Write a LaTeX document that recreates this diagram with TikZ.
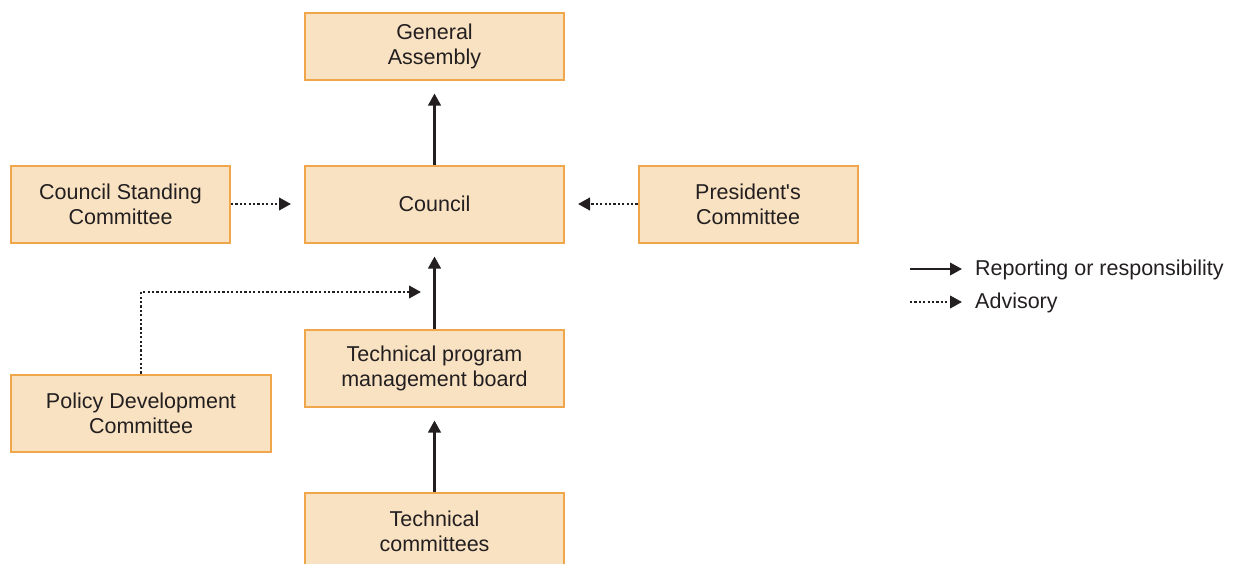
\documentclass[tikz,border=0pt]{standalone}
\usepackage{fontspec}
\newfontfamily\lib{Liberation Sans}
\usetikzlibrary{arrows.meta}
\definecolor{boxfill}{HTML}{F9E2C2}
\definecolor{boxdraw}{HTML}{F0A64A}
\definecolor{ink}{HTML}{231F20}
\begin{document}
\begin{tikzpicture}[x=1pt,y=-1pt,
  box/.style={draw=boxdraw, fill=boxfill, line width=2pt, minimum width=259pt,
    minimum height=77pt, align=center, inner sep=0pt, text=ink,
    font=\lib\fontsize{21.5}{25}\selectfont},
  report/.style={draw=ink, line width=2.5pt, -{Triangle[length=12pt,width=12.5pt]}},
  advise/.style={draw=ink, line width=2.4pt, dash pattern=on 2.2pt off 2.2pt,
    -{Triangle[length=12pt,width=12.5pt]}},
  lbl/.style={anchor=west, inner sep=0pt, text=ink, font=\lib\fontsize{21.5}{25}\selectfont}]
\useasboundingbox (0,0) rectangle (1234,563);

\node[box, minimum height=67pt] (ga) at (434.5,46) {General\\Assembly};
\node[box] (council) at (434.5,204) {Council};
\node[box, minimum width=219pt] (csc) at (120.5,204) {Council Standing\\Committee};
\node[box, minimum width=219pt] (pc) at (748,204) {President's\\Committee};
\node[box] (tpmb) at (434.5,368) {Technical program\\management board};
\node[box, minimum width=260pt] (pdc) at (141,413) {Policy Development\\Committee};
\node[box] (tc) at (434.5,531) {Technical\\committees};

\draw[report, shorten >=13pt] (council.north) -- (ga.south);
\draw[report, shorten >=13pt] (tpmb.north) -- (council.south);
\draw[report, shorten >=13pt] (tc.north) -- (tpmb.south);
\draw[advise, shorten >=13pt] (csc.east) -- (council.west);
\draw[advise, shorten >=13pt] (pc.west) -- (council.east);
\coordinate (pdtip) at (421,292);
\draw[advise] (pdc.north) |- (pdtip);

\coordinate (l1a) at (910,269);
\coordinate (l1b) at (962,269);
\draw[report, line width=2.2pt] (l1a) -- (l1b);
\node[lbl] (l1) at (975,270) {Reporting or responsibility};
\coordinate (l2a) at (910,302);
\coordinate (l2b) at (962,302);
\draw[advise] (l2a) -- (l2b);
\node[lbl] (l2) at (975,303) {Advisory};
\end{tikzpicture}
\end{document}
